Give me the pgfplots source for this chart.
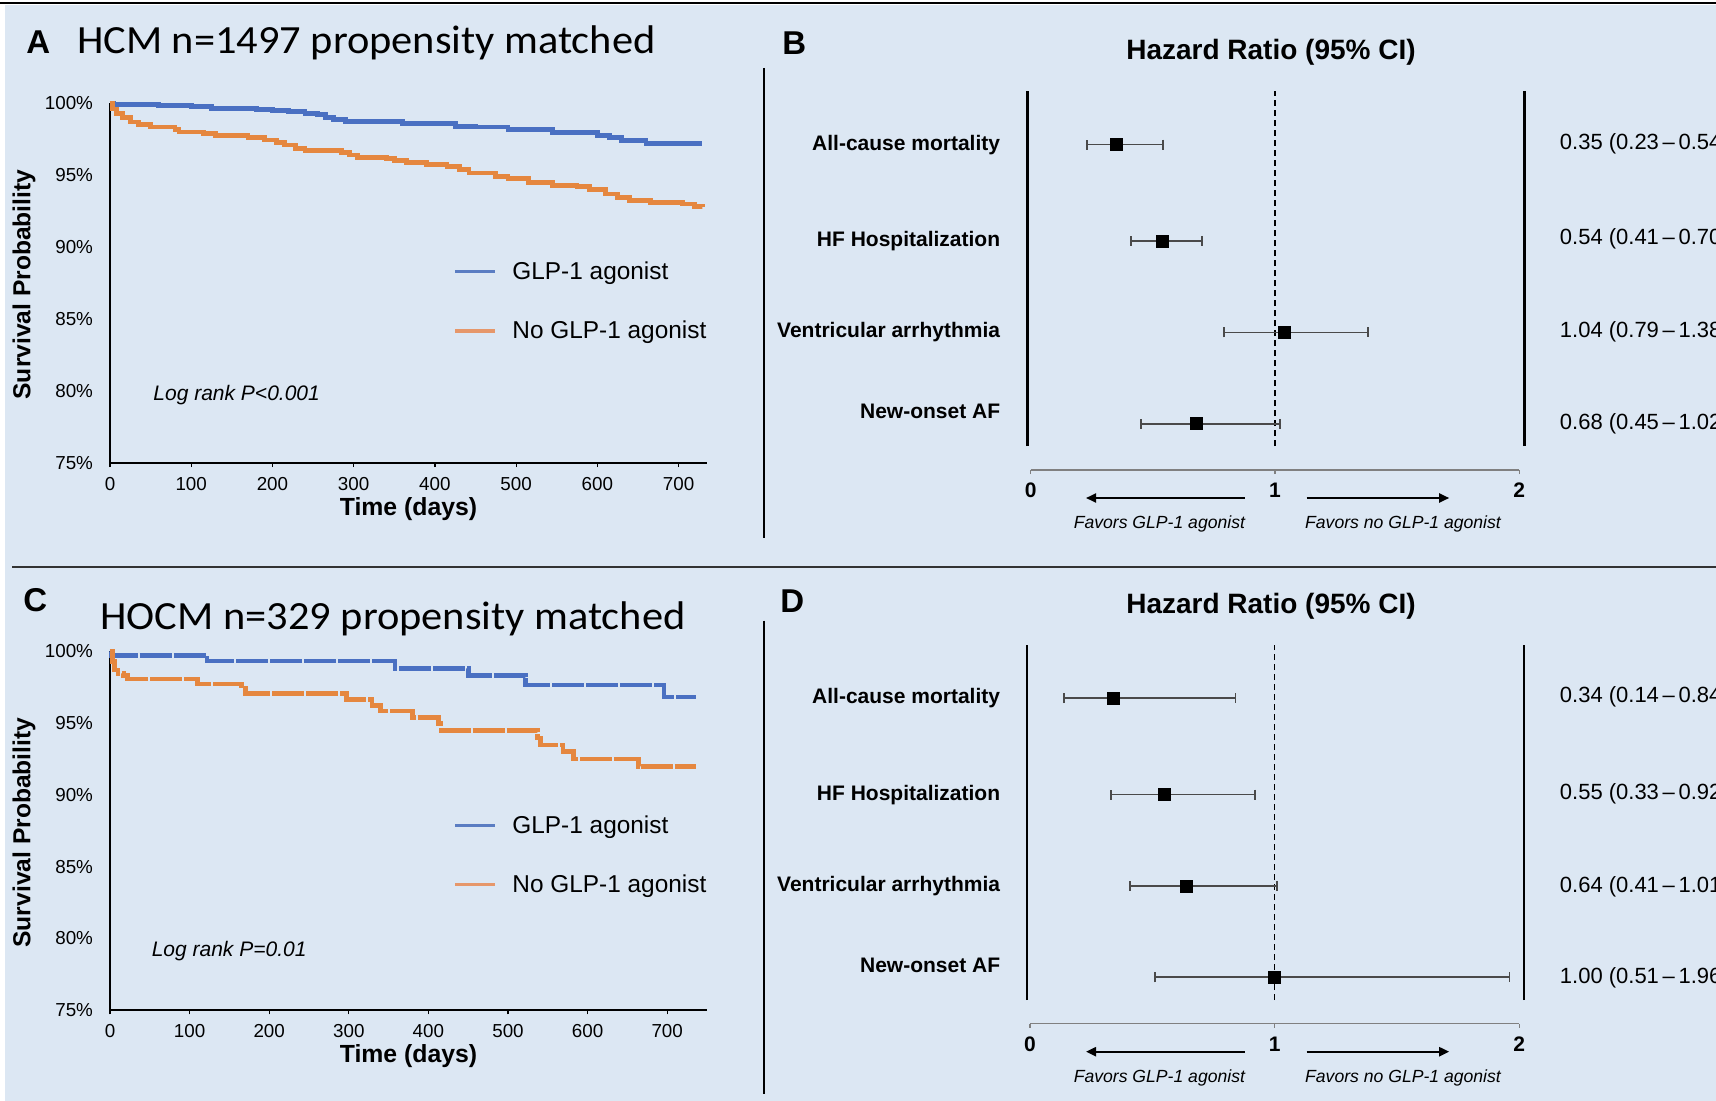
\documentclass[border=0pt]{standalone}
\usepackage{pgfplots}
\pgfplotsset{compat=1.18}
\usepackage{fontspec}
\setmainfont{Liberation Sans}
\newfontfamily\calibri[FakeStretch=1.06]{Carlito}
\usetikzlibrary{arrows.meta}
\definecolor{bg}{HTML}{DCE7F3}
\definecolor{kmblue}{HTML}{4A70C2}
\definecolor{kmorange}{HTML}{E5873F}
\definecolor{legblue}{HTML}{5B7DC2}
\definecolor{legorange}{HTML}{E6976A}
\definecolor{cigray}{HTML}{4A4A4A}
\newcommand\fs[1]{\fontsize{#1}{#1}\selectfont}
\pgfplotsset{
  kmaxis/.style={
    scale only axis, width=298.5pt, height=180pt,
    xmin=0, ymin=75, ymax=100,
    axis x line*=bottom, axis y line*=left,
    axis line style={line width=1pt,-},
    xtick={0,100,...,700},
    ytick={75,80,85,90,95,100},
    yticklabels={75\%,80\%,85\%,90\%,95\%,100\%},
    tick align=outside, major tick length=2pt,
    ytick style={draw=none},
    xtick style={line width=0.6pt, black},
    /pgf/number format/assume math mode=true,
    ticklabel style={font=\fs{9.4}},
    xticklabel style={yshift=-1.5pt},
    yticklabel style={xshift=-3pt},
    clip=false,
  },
  forest/.style={
    scale only axis, width=244.3pt, height=189.5pt,
    xmin=0, xmax=2, ymin=0, ymax=379,
    axis x line*=bottom, axis y line=none,
    x axis line style={line width=0.6pt, draw=gray,-},
    xtick={0,1,2}, tick align=outside, major tick length=2pt,
    xtick style={draw=gray, line width=0.6pt},
    /pgf/number format/assume math mode=true,
    xticklabel style={font=\fs{10.5}\bfseries, yshift=-1pt},
    clip=false,
  },
  cipts/.style={only marks, mark=square*, mark size=3pt, black,
    error bars/.cd, x dir=both, x explicit,
    error bar style={cigray, line width=0.9pt},
    error mark options={cigray, line width=0.9pt, mark size=2.5pt, rotate=90}},
}
\begin{document}
\begin{tikzpicture}
\useasboundingbox (0,0) rectangle (858pt,-550.5pt);
\clip (0,0) rectangle (858pt,-550.5pt);
\fill[white] (0,0) rectangle (858pt,-550.5pt);
\fill[bg] (2.5pt,-2.5pt) rectangle (858pt,-550.5pt);

\begin{scope}[x=0.5pt,y=-0.5pt]
\draw[line width=1pt] (0,3.5) -- (1716,3.5);
\draw[line width=1.4pt, black!80] (12,567) -- (1716,567);
\draw[line width=1.2pt] (763.7,67.9) -- (763.7,538.4);
\draw[line width=1.2pt] (763.7,620.5) -- (763.7,1094.4);
% panel letters and titles
\node[anchor=base west, inner sep=0, font=\fs{16.5}\bfseries] at (26,54) {A};
\node[anchor=base west, inner sep=0, font=\fs{16.5}\bfseries] at (782,55) {B};
\node[anchor=base west, inner sep=0, font=\fs{16.5}\bfseries] at (23,611.8) {C};
\node[anchor=base west, inner sep=0, font=\fs{16.5}\bfseries] at (780,612.5) {D};
\node[anchor=base west, inner sep=0, font=\calibri\fs{20}] at (76.6,53.3) {HCM n=1497 propensity matched};
\node[anchor=base west, inner sep=0, font=\calibri\fs{20}] at (100,629) {HOCM n=329 propensity matched};
% KM labels
\node[rotate=90, inner sep=0, font=\fs{12.3}\bfseries] at (24,284.6) {Survival Probability};
\node[rotate=90, inner sep=0, font=\fs{12.3}\bfseries] at (24,832.6) {Survival Probability};
\node[inner sep=0, font=\fs{12.4}\bfseries] at (408.5,509) {Time (days)};
\node[inner sep=0, font=\fs{12.4}\bfseries] at (408.5,1056) {Time (days)};
% legends
\draw[legblue, line width=1.6pt] (455,271.7) -- (495,271.7);
\draw[legorange, line width=1.6pt] (455,331) -- (495,331);
\node[anchor=west, inner sep=0, font=\fs{12.2}] at (512,273) {GLP-1 agonist};
\node[anchor=west, inner sep=0, font=\fs{12.2}] at (512,332.3) {No GLP-1 agonist};
\draw[legblue, line width=1.6pt] (455,825.7) -- (495,825.7);
\draw[legorange, line width=1.6pt] (455,884.4) -- (495,884.4);
\node[anchor=west, inner sep=0, font=\fs{12.2}] at (512,827) {GLP-1 agonist};
\node[anchor=west, inner sep=0, font=\fs{12.2}] at (512,885.7) {No GLP-1 agonist};
% forest titles
\node[anchor=base, inner sep=0, font=\fs{14}\bfseries] at (1271,60) {Hazard Ratio (95\% CI)};
\node[anchor=base, inner sep=0, font=\fs{14}\bfseries] at (1271,613) {Hazard Ratio (95\% CI)};
% forest row labels
\foreach \t/\y in {All-cause mortality/144.6, HF Hospitalization/241, Ventricular arrhythmia/332.3, New-onset AF/411.5,
                   All-cause mortality/698, HF Hospitalization/794.6, Ventricular arrhythmia/886, New-onset AF/965.5}
  \node[anchor=east, inner sep=0, font=\fs{10.5}\bfseries] at (1000.5,\y) {\t};
% right column
\node[anchor=west, inner sep=0, font=\fs{11}] at (1559.5,143.4) {0.35 (0.23\,--\,0.54)};
\node[anchor=west, inner sep=0, font=\fs{11}] at (1559.5,238.6) {0.54 (0.41\,--\,0.70)};
\node[anchor=west, inner sep=0, font=\fs{11}] at (1559.5,331.6) {1.04 (0.79\,--\,1.38)};
\node[anchor=west, inner sep=0, font=\fs{11}] at (1559.5,423.5) {0.68 (0.45\,--\,1.02)};
\node[anchor=west, inner sep=0, font=\fs{11}] at (1559.5,697) {0.34 (0.14\,--\,0.84)};
\node[anchor=west, inner sep=0, font=\fs{11}] at (1559.5,793.4) {0.55 (0.33\,--\,0.92)};
\node[anchor=west, inner sep=0, font=\fs{11}] at (1559.5,886.5) {0.64 (0.41\,--\,1.01)};
\node[anchor=west, inner sep=0, font=\fs{11}] at (1559.5,977.3) {1.00 (0.51\,--\,1.96)};
% arrows and favors
\foreach \dy in {0,553.7}{
  \draw[line width=1.1pt, -{Triangle[length=5pt,width=4.5pt]}] (1244.8,498+\dy) -- (1086,498+\dy);
  \draw[line width=1.1pt, -{Triangle[length=5pt,width=4.5pt]}] (1306.6,498+\dy) -- (1449.2,498+\dy);
  \node[inner sep=0, font=\fs{8.8}\itshape] at (1159.4,524.4+\dy) {Favors GLP-1 agonist};
  \node[inner sep=0, font=\fs{8.8}\itshape] at (1403,524.4+\dy) {Favors no GLP-1 agonist};
}
\end{scope}

% ---------- Panel A ----------
\begin{axis}[kmaxis, at={(55pt,-231.6pt)}, anchor=south west, xmax=735]
\addplot[const plot, kmblue, line width=2.4pt] coordinates {
(0,100) (5,99.9) (60,99.85) (100,99.75) (125,99.65) (180,99.55) (200,99.5)
(220,99.4) (240,99.3) (255,99.2) (265,99.0) (275,98.85) (290,98.75) (360,98.6)
(425,98.4) (450,98.35) (490,98.15) (545,97.95) (600,97.75) (615,97.6) (630,97.4)
(660,97.2) (729,97.2)};
\addplot[const plot, kmorange, line width=2.4pt] coordinates {
(0,100) (3,99.6) (8,99.3) (15,99.0) (25,98.7) (35,98.5) (50,98.35) (80,98.2)
(85,98.0) (115,97.9) (130,97.75) (170,97.6) (190,97.45) (205,97.25) (215,97.1)
(228,96.85) (240,96.7) (285,96.55) (295,96.4) (305,96.25) (340,96.15) (350,96.0)
(365,95.9) (390,95.75) (415,95.6) (430,95.4) (442,95.15) (475,94.9) (490,94.75)
(515,94.5) (545,94.3) (575,94.2) (590,94.0) (610,93.7) (625,93.45) (640,93.25)
(665,93.1) (705,93.0) (720,92.85) (729,92.78)};
\node[anchor=west, inner sep=0, font=\fs{10.5}\itshape] at (axis cs:53,79.75) {Log rank P<0.001};
\end{axis}

% ---------- Panel C ----------
\begin{axis}[kmaxis, at={(55pt,-505.15pt)}, anchor=south west, xmax=750, height=179.5pt, width=298.5pt]
\addplot[const plot, kmblue, line width=2.3pt, dash pattern=on 16pt off 1pt] coordinates {
(0,100) (2,99.7) (122,99.33) (358,98.82) (450,98.31) (522,97.66) (696,96.82) (736,96.82)};
\addplot[const plot, kmorange, line width=2.3pt, dash pattern=on 16pt off 1pt] coordinates {
(0,100) (3,99.3) (6,98.7) (10,98.47) (17,98.3) (22,98.08) (110,97.73) (165,97.43)
(170,97.08) (297,96.66) (329,96.22) (340,95.85) (380,95.38) (413,94.99) (416,94.48)
(537,93.95) (541,93.48) (569,93.02) (582,92.49) (664,91.97) (736,91.97)};
\node[anchor=west, inner sep=0, font=\fs{10.5}\itshape] at (axis cs:52,79.1) {Log rank P=0.01};
\end{axis}

% ---------- Panel B ----------
\begin{axis}[forest, at={(515.35pt,-235pt)}, anchor=south west]
\draw[line width=1.2pt] (axis cs:-0.0127,24) -- (axis cs:-0.0127,379);
\draw[line width=1.2pt] (axis cs:2.0205,24) -- (axis cs:2.0205,379);
\draw[line width=0.6pt, dash pattern=on 3pt off 2pt] (axis cs:1,24) -- (axis cs:1,379);
\addplot[cipts] coordinates {
(0.35,325.4) += (0.19,0) -= (0.12,0)
(0.54,229.0) += (0.16,0) -= (0.13,0)
(1.04,137.6) += (0.34,0) -= (0.25,0)
(0.68,46.2) += (0.34,0) -= (0.23,0)};
\end{axis}

% ---------- Panel D ----------
\begin{axis}[forest, at={(515pt,-511.75pt)}, anchor=south west, width=244.6pt]
\draw[line width=1.2pt] (axis cs:-0.0127,23.5) -- (axis cs:-0.0127,379);
\draw[line width=1.2pt] (axis cs:2.0205,23.5) -- (axis cs:2.0205,379);
\draw[line width=0.6pt, dash pattern=on 3pt off 2pt] (axis cs:1,23.5) -- (axis cs:1,379);
\addplot[cipts] coordinates {
(0.34,325.4) += (0.50,0) -= (0.20,0)
(0.55,229.0) += (0.37,0) -= (0.22,0)
(0.64,137.6) += (0.37,0) -= (0.23,0)
(1.00,46.2) += (0.96,0) -= (0.49,0)};
\end{axis}
\end{tikzpicture}
\end{document}
